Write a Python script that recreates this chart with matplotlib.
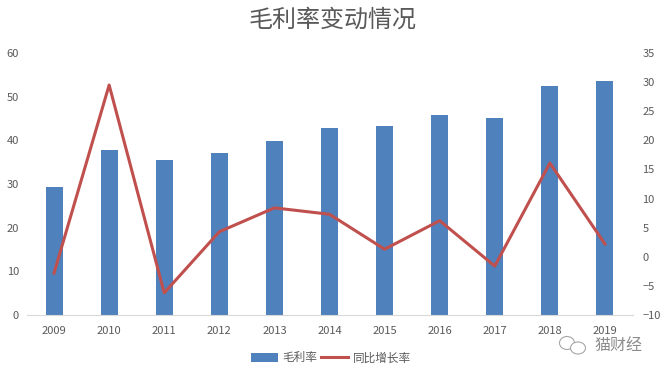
import numpy as np
import matplotlib
matplotlib.use("Agg")
import matplotlib.pyplot as plt
from matplotlib.patches import Ellipse

plt.rcParams['font.family'] = ['Noto Sans CJK SC', 'DejaVu Sans']

years = ['2009', '2010', '2011', '2012', '2013', '2014', '2015', '2016', '2017', '2018', '2019']
gross_margin = [29.3, 37.8, 35.5, 37.0, 39.8, 42.8, 43.3, 45.8, 45.1, 52.4, 53.6]
yoy_growth = [-2.8, 29.5, -6.2, 4.3, 8.4, 7.3, 1.3, 6.2, -1.6, 16.1, 2.2]

text_color = '#595959'
W, H = 663, 374

fig = plt.figure(figsize=(W / 100, H / 100), dpi=100)
ax = fig.add_axes([26.5 / W, (H - 315) / H, 606 / W, 262 / H])
x = np.arange(len(years))

bars = ax.bar(x, gross_margin, width=0.31, color='#4f81bd', label='毛利率', zorder=2)
ax.set_xlim(-0.5, 10.5)
ax.set_ylim(0, 60)
ax.set_yticks(range(0, 61, 10))
ax.set_xticks(x)
ax.set_xticklabels(years)

# line goes on its own right hand scale
ax2 = ax.twinx()
line, = ax2.plot(x, yoy_growth, color='#c0504d', linewidth=2.2, label='同比增长率', zorder=3)
ax2.set_ylim(-10, 35)
ax2.set_yticks(range(-10, 36, 5))

for a in (ax, ax2):
    for s in a.spines.values():
        s.set_visible(False)
    a.tick_params(length=0, labelsize=8, labelcolor=text_color)
ax.spines['bottom'].set_visible(True)
ax.spines['bottom'].set_color('#d9d9d9')
ax.tick_params(axis='x', pad=8)
ax.tick_params(axis='y', pad=5.5)
ax2.tick_params(axis='y', pad=7)

fig.text(332.5 / W, 1 - 20 / H, '毛利率变动情况', ha='center', va='center', fontsize=17.3, color=text_color)

fig.legend([bars, line], ['毛利率', '同比增长率'], loc='center', bbox_to_anchor=(331 / W, 1 - 358 / H),
           ncol=2, frameon=False, fontsize=8.4, labelcolor=text_color, handlelength=2.3,
           handletextpad=0.4, columnspacing=0.3)

# watermark in the bottom corner
fig.text(594 / W, 1 - 345 / H, '猫财经', ha='left', va='center', fontsize=11.5, color='#8c8c8c')
for cx, cy, ew, eh in [(567, 343, 15, 13), (578, 348, 15, 12)]:
    fig.add_artist(Ellipse((cx / W, 1 - cy / H), ew / W, eh / H, transform=fig.transFigure,
                           facecolor='white', edgecolor='#a6a6a6', linewidth=0.8))

fig.savefig('out.png', dpi=100)
